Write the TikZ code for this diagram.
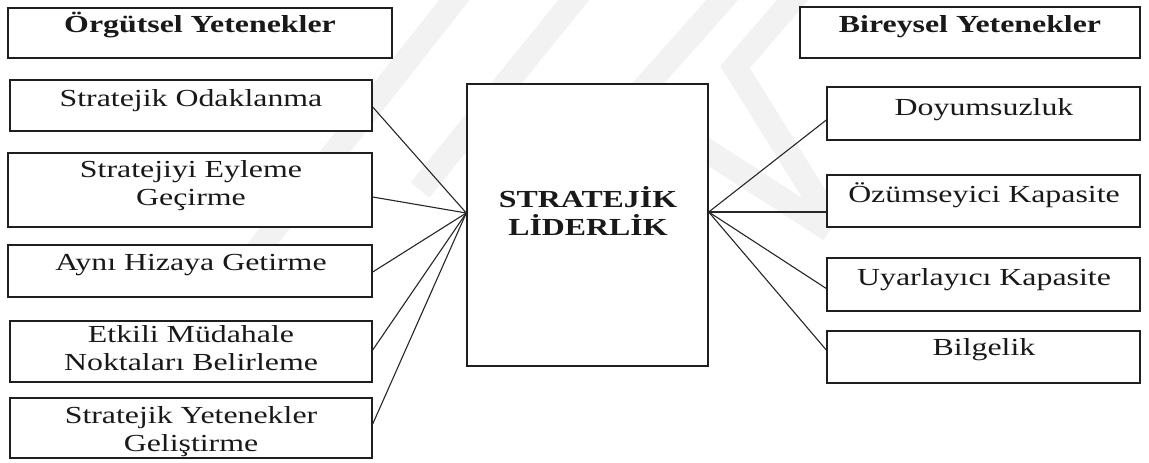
\documentclass[tikz,border=0pt]{standalone}
\usepackage{fontspec}
\setmainfont{Liberation Serif}[FakeStretch=1.3]
\begin{document}
\begin{tikzpicture}[x=1pt,y=-1pt,
  box/.style={draw=black!88,line width=1.4pt,fill=white,inner sep=0pt},
  txt/.style={inner sep=0pt,anchor=base,align=center,text=black!90,
    font=\fontsize{24.5}{27.7}\selectfont},
  btxt/.style={txt,font=\fontsize{24.5}{27.7}\selectfont\bfseries},
  link/.style={draw=black!85,line width=1.1pt},
  wm/.style={draw=black!5,line width=24pt,line join=miter}]
\useasboundingbox (0,0) rectangle (1149,463);
% faint background stripes
\draw[wm] (250,260) -- (470,-20);
\draw[wm] (420,190) -- (590,-20);
\draw[wm] (580,160) -- (740,-20);
\draw[wm] (810,-20) -- (735,67) -- (830,220);
\draw[wm] (690,140) -- (830,230);
% left column
\node[box,minimum width=384pt,minimum height=50pt] (org) at (200,33) {};
\node[box,minimum width=362pt,minimum height=51pt] (l1) at (191,105.5) {};
\node[box,minimum width=364pt,minimum height=74pt] (l2) at (190,190) {};
\node[box,minimum width=364pt,minimum height=52pt] (l3) at (190,271) {};
\node[box,minimum width=362pt,minimum height=61pt] (l4) at (191,351.5) {};
\node[box,minimum width=362pt,minimum height=60pt] (l5) at (191,428) {};
% centre
\node[box,minimum width=241pt,minimum height=282pt] (c) at (587.5,225) {};
% right column
\node[box,minimum width=340pt,minimum height=51pt] (bir) at (970,32.5) {};
\node[box,minimum width=313pt,minimum height=53pt] (r1) at (983.5,113.5) {};
\node[box,minimum width=313pt,minimum height=52pt] (r2) at (983.5,201) {};
\node[box,minimum width=313pt,minimum height=53pt] (r3) at (983.5,284.5) {};
\node[box,minimum width=313pt,minimum height=52pt] (r4) at (983.5,357) {};
% texts (base anchor sits on the last line)
\node[btxt] (torg) at (200,32) {Örgütsel Yetenekler};
\node[txt] (tl1) at (191,106) {Stratejik Odaklanma};
\node[txt] (tl2) at (191,205) {Stratejiyi Eyleme\\Geçirme};
\node[txt] (tl3) at (191,270) {Aynı Hizaya Getirme};
\node[txt] (tl4) at (191,370) {Etkili Müdahale\\Noktaları Belirleme};
\node[txt] (tl5) at (191,451) {Stratejik Yetenekler\\Geliştirme};
\node[btxt] (tc) at (588,235) {STRATEJİK\\LİDERLİK};
\node[btxt] (tbir) at (970,32) {Bireysel Yetenekler};
\node[txt] (tr1) at (984,115) {Doyumsuzluk};
\node[txt] (tr2) at (984,202) {Özümseyici Kapasite};
\node[txt] (tr3) at (984,285) {Uyarlayıcı Kapasite};
\node[txt] (tr4) at (984,355) {Bilgelik};
% connectors
\coordinate (cw) at ([yshift=12pt]c.west);
\coordinate (ce) at ([yshift=13pt]c.east);
\draw[link] ([yshift=-1.5pt]l1.east) -- (cw);
\draw[link] ([yshift=-7pt]l2.east) -- (cw);
\draw[link] ([yshift=-1pt]l3.east) -- (cw);
\draw[link] ([yshift=1.5pt]l4.east) -- (cw);
\draw[link] ([yshift=4pt]l5.east) -- (cw);
\draw[link] (ce) -- ([yshift=-6.5pt]r1.west);
\draw[link] (ce) -- ([yshift=-11pt]r2.west);
\draw[link] (ce) -- ([yshift=-4pt]r3.west);
\draw[link] (ce) -- ([yshift=7pt]r4.west);
\end{tikzpicture}
\end{document}
